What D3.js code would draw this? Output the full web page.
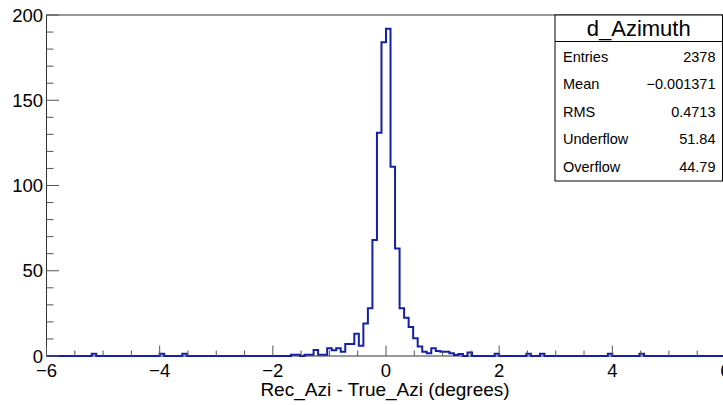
<!DOCTYPE html>
<html><head><meta charset="utf-8">
<script src="https://cdn.jsdelivr.net/npm/d3@7"></script>
<style>
html,body{margin:0;padding:0;background:#fff;}
text{font-family:"Liberation Sans",Arial,Helvetica,sans-serif;}
</style></head>
<body><svg id="c" width="723" height="405"></svg>
<script>
// Histogram: 150 bins from -6 to 6 (bin width 0.08)
const xMin = -6, xMax = 6;
const binCounts = [
  0,0,0,0,0,0,0,0,0,0,
  1.3,0,0,0,0,0,0,0,0,0,
  0,0,0,0,0,1.3,0,0,0,0,
  1.3,0,0,0,0,0,0,0,0,0,
  0,0,0,0,0,0,0,0,0,0,
  0,0,0,0,0.8,0.8,0,0.8,0.8,3.5,
  0.8,0.8,4.5,3.3,4.5,2.5,7,7,13,6,
  19,28,68,131,184,192,111,63,28,22.5,
  17,10.4,5.5,2.5,1.6,4.5,3,2.5,2.5,1.6,
  0.6,1.2,0,2,0,0,0,0,0,1.3,
  0,0,0,0,0,0,1.3,0,0,1.3,
  0,0,0,0,0,0,0,0,0,0,
  0,0,0,0,1.3,0,0,0,0,0,
  0,1.3,0,0,0,0,0,0,0,0,
  0,0,0,0,0,0,0,0,0,0
];
const xTickValues = [-6,-4,-2,0,2,4,6];
const yTickValues = [0,50,100,150,200];
const statsTitle = "d_Azimuth";
const statsLabels = ["Entries","Mean","RMS","Underflow","Overflow"];
const statsValues = ["2378","\u22120.001371","0.4713","51.84","44.79"];
const xTitle = "Rec_Azi - True_Azi (degrees)";

const svg = d3.select("#c");
const pL = 46.5, pR = 725.5, pT = 15, pB = 356;
const x = d3.scaleLinear().domain([xMin, xMax]).range([pL, pR]);
const y = d3.scaleLinear().domain([0, 200]).range([pB, pT]);
const nb = binCounts.length, bw = (xMax - xMin) / nb;

// frame
svg.append("rect").attr("x", pL).attr("y", pT).attr("width", pR-pL).attr("height", pB-pT)
  .attr("fill","none").attr("stroke","#333").attr("stroke-width",1);

// histogram step line
const pts = [];
binCounts.forEach((c,i)=>{
  const x0 = xMin + i*bw, x1 = xMin + (i+1)*bw;
  pts.push([x(x0), y(c)]); pts.push([x(x1), y(c)]);
});
svg.append("path").attr("d", d3.line()(pts)).attr("fill","none")
  .attr("stroke","#1421a6").attr("stroke-width",2).attr("stroke-linejoin","miter");

// x axis ticks
const xMinor = d3.range(-12, 13).map(d=>d/2);
const xAx = svg.append("g");
xMinor.forEach(v=>{
  const major = Number.isInteger(v/2);
  xAx.append("line").attr("x1",x(v)).attr("x2",x(v)).attr("y1",pB).attr("y2",pB-(major?10.5:5.5))
    .attr("stroke","#555").attr("stroke-width",1);
});
xTickValues.forEach(v=>{
  xAx.append("text").attr("x",x(v)).attr("y",377).attr("text-anchor","middle")
    .attr("font-size",18.5).attr("fill","#000").text(String(v).replace("-","\u2212"));
});
// y axis ticks
const yAx = svg.append("g");
d3.range(0,201,10).forEach(v=>{
  const major = v % 50 === 0;
  yAx.append("line").attr("x1",pL).attr("x2",pL+(major?12.5:7)).attr("y1",y(v)).attr("y2",y(v))
    .attr("stroke","#555").attr("stroke-width",1);
});
yTickValues.forEach(v=>{
  yAx.append("text").attr("x",43).attr("y",y(v)).attr("dy","0.36em").attr("text-anchor","end")
    .attr("font-size",18.5).attr("fill","#000").text(v);
});
// axis title
svg.append("text").attr("x",385).attr("y",396).attr("text-anchor","middle")
  .attr("font-size",19).attr("fill","#000").text(xTitle);

// stats box
const sb = {x0:555, y0:15, x1:722.5, y1:181};
svg.append("rect").attr("x",sb.x0).attr("y",sb.y0).attr("width",sb.x1-sb.x0).attr("height",sb.y1-sb.y0)
  .attr("fill","#fff").attr("stroke","#000").attr("stroke-width",1);
svg.append("line").attr("x1",sb.x0).attr("x2",sb.x1).attr("y1",41.5).attr("y2",41.5).attr("stroke","#000");
svg.append("text").attr("x",(sb.x0+sb.x1)/2).attr("y",36).attr("text-anchor","middle")
  .attr("font-size",22).text(statsTitle);
statsLabels.forEach((l,i)=>{
  const yy = 62 + i*27.4;
  svg.append("text").attr("x",563).attr("y",yy).attr("font-size",14.5).text(l);
  svg.append("text").attr("x",715.5).attr("y",yy).attr("text-anchor","end").attr("font-size",14.5).text(statsValues[i]);
});
</script></body></html>
